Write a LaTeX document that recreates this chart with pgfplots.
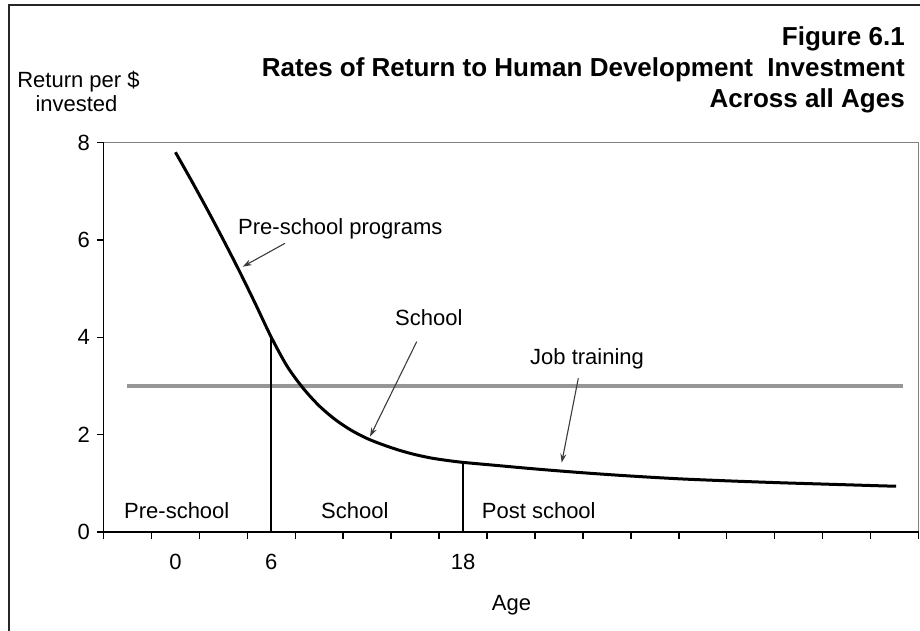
\documentclass[border=0pt]{standalone}
\usepackage{pgfplots}
\pgfplotsset{compat=1.18}
\usepackage{pgfplotstable}
\usepackage{fontspec}
\setmainfont{Liberation Sans}
\usetikzlibrary{arrows.meta}
\definecolor{linegray}{RGB}{150,150,150}
\definecolor{boxgray}{RGB}{130,130,130}
\definecolor{arrowgray}{RGB}{60,60,60}
\newcommand\rf{\fontsize{22}{25}\selectfont}
\newcommand\tf{\fontsize{26}{31}\selectfont\bfseries}
\pgfplotstableread{
age ret
0 7.8
1 7.22
2 6.62
3 6.0
4 5.36
5 4.69
6 4.0
7 3.40
8 2.95
9 2.59
10 2.31
11 2.09
12 1.92
13 1.79
14 1.68
15 1.59
16 1.52
17 1.47
18 1.43
20 1.37
22 1.31
24 1.255
26 1.205
28 1.16
30 1.12
32 1.085
35 1.045
38 1.01
41 0.98
44 0.95
45.1 0.94
}\curvedata
\begin{document}
\begin{tikzpicture}
\begin{axis}[
  at={(103.5pt,-532pt)}, anchor=south west,
  scale only axis, width=815pt, height=389.5pt,
  xmin=-4.5, xmax=46.5, ymin=0, ymax=8,
  axis line style={line width=1.5pt, boxgray},
  xtick pos=bottom, ytick pos=left,
  xtick={-4.5,-1.5,...,46.5},
  xticklabels={},
  extra x ticks={0,6,18},
  extra x tick labels={0,6,18},
  extra x tick style={tick style={draw=none}, xticklabel style={yshift=-12pt}},
  ytick={0,2,4,6,8},
  tick align=outside,
  major tick length=7pt,
  tick style={line width=1.5pt, black},
  /pgf/number format/assume math mode=true,
  tick label style={font=\rf},
  yticklabel style={anchor=east, inner sep=0pt, xshift=-6.5pt},
  clip=false,
]
\addplot[linegray, line width=3.5pt] coordinates {(-3,3) (45.5,3)};
\addplot[black, line width=1.8pt] coordinates {(6,0) (6,4.0)};
\addplot[black, line width=1.8pt] coordinates {(18,0) (18,1.43)};
\addplot[black, line width=3pt, smooth] table[x=age,y=ret] {\curvedata};
\draw[black, line width=1.8pt] (rel axis cs:0,1) -- (rel axis cs:0,0) -- (rel axis cs:1,0);
\pgfplotsinvokeforeach{0,2,4,6,8}{\draw[black, line width=1.5pt] (axis cs:-4.5,#1) -- ++(-7pt,0pt);}
\end{axis}
% outer frame
\draw[line width=2.5pt, black!85] (9pt,-640pt) -- (9pt,-5pt) -- (930pt,-5pt);
% title
\node[anchor=base east, inner sep=0pt] at (905pt,-46pt) {\tf Figure 6.1};
\node[anchor=base east, inner sep=0pt] at (905pt,-77pt) {\tf Rates of Return to Human Development\ \ Investment};
\node[anchor=base east, inner sep=0pt] at (905pt,-108pt) {\tf Across all Ages};
% y label
\node[anchor=base, inner sep=0pt] at (78.5pt,-87.5pt) {\rf Return per \$};
\node[anchor=base, inner sep=0pt] at (76.5pt,-111.5pt) {\rf invested};
% annotations
\node[anchor=base west, inner sep=0pt] at (238pt,-234pt) {\rf Pre-school programs};
\node[anchor=base west, inner sep=0pt] at (395pt,-325pt) {\rf School};
\node[anchor=base west, inner sep=0pt] at (530pt,-364pt) {\rf Job training};
\draw[arrowgray, line width=1.1pt, -{Stealth[length=9pt,width=6pt]}] (285pt,-243.3pt) -- (242.7pt,-266.7pt);
\draw[arrowgray, line width=1.1pt, -{Stealth[length=9pt,width=6pt]}] (416.7pt,-341.7pt) -- (370pt,-436.7pt);
\draw[arrowgray, line width=1.1pt, -{Stealth[length=9pt,width=6pt]}] (578.3pt,-378.3pt) -- (561.7pt,-462.7pt);
% period labels
\node[anchor=base west, inner sep=0pt] at (124pt,-518pt) {\rf Pre-school};
\node[anchor=base west, inner sep=0pt] at (321pt,-518pt) {\rf School};
\node[anchor=base west, inner sep=0pt] at (481.7pt,-518pt) {\rf Post school};
% x label
\node[anchor=base west, inner sep=0pt] at (491.7pt,-610pt) {\rf Age};
\pgfresetboundingbox
\useasboundingbox (0pt,0pt) rectangle (920pt,-631pt);
\end{tikzpicture}
\end{document}
